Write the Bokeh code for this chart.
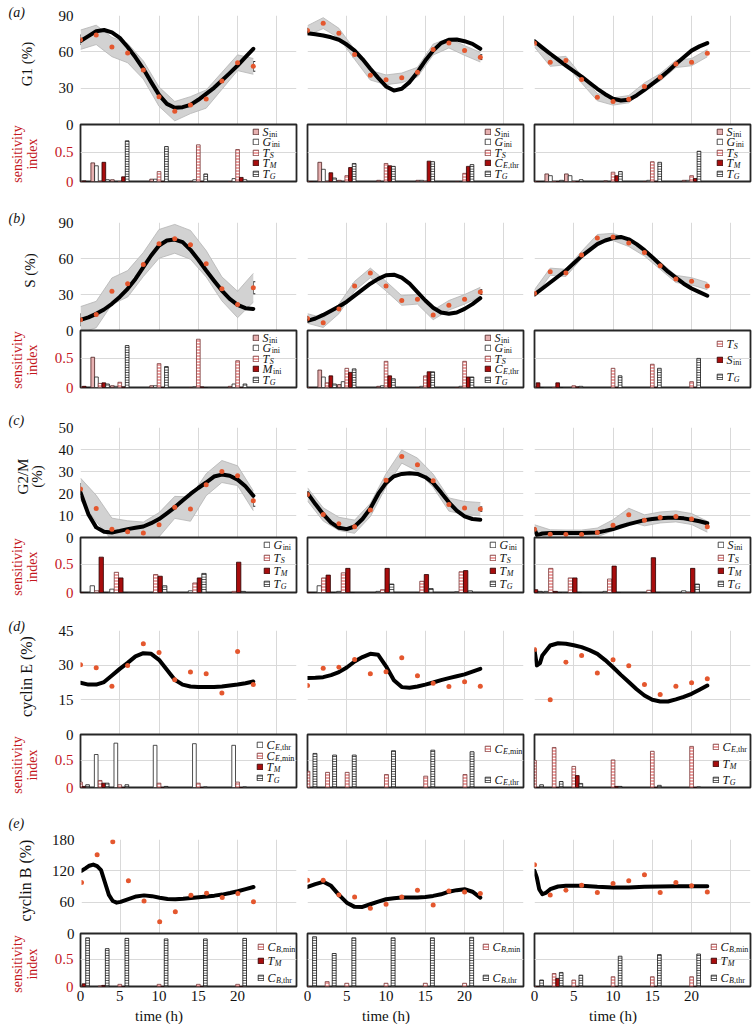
import math
from bokeh.plotting import figure
from bokeh.layouts import column, row
from bokeh.models import (ColumnDataSource, FixedTicker, LinearAxis, Range1d, Label,
                          Legend, LegendItem, Whisker, TeeHead, Grid, Plot)
from bokeh.core.properties import value
from bokeh.embed import file_html
from bokeh.resources import INLINE

# ------------------------------------------------------------------ data
obs_t = [0, 2, 4, 6, 8, 10, 12, 14, 16, 18, 20, 22]
hours = [0, 1, 2, 3, 4, 5, 6, 7, 8, 9, 10, 11, 12, 13, 14, 15, 16, 17, 18, 19, 20, 21, 22]
sens_t = [0, 2.5, 5, 10, 15, 20]

# (a) G1 (%)
g1_obs_1 = [70, 74, 64, 59, 45, 23, 11, 16, 21, 36, 51, 48]
g1_err_1 = [4, 4, 4, 3, 3, 4, 4, 3, 4, 3, 3, 4]
g1_band_1 = [8, 8, 8, 8, 7.5, 8, 8, 7, 7.5, 7, 6.5, 6.5]
g1_fit_1 = [69, 73, 77, 78, 76, 71.5, 64, 55.5, 46, 35, 24.5, 17, 13.8, 14.3, 16.2, 20.4,
            25.3, 30.3, 36.3, 42.4, 48.7, 55.6, 62.5]
g1_obs_2 = [77.6, 83.7, 75.4, 57.8, 40.7, 36.9, 38.5, 43.2, 61.9, 67.2, 61.1, 55.6]
g1_err_2 = [2, 2, 2, 2, 2, 2, 2, 2, 2, 2, 2, 2]
g1_band_2 = [4, 4.5, 4, 4, 4, 4, 4, 4, 4.5, 4, 4, 4]
g1_fit_2 = [75.4, 74.5, 73.5, 72, 70, 66, 61, 54, 46, 38.5, 31.4, 28, 29.5, 35, 43.2, 52.8,
            61, 67.2, 69.9, 70.2, 68.8, 66.6, 62.5]
g1_obs_3 = [67, 51.5, 52.8, 37.2, 22.6, 19, 20.9, 31.4, 39, 50, 51.5, 58.9]
g1_band_3 = [3, 3.5, 3.5, 3, 3, 3, 3, 3, 3, 3, 3, 3]
g1_fit_3 = [68.8, 63.5, 58.4, 53.5, 48.7, 44, 39.6, 34.5, 29.5, 25, 21.2, 19.8, 20.4, 24,
            28.6, 33.5, 38.5, 44, 50, 55.5, 61, 64.5, 67.2]

# (b) S (%)
s_obs_1 = [8.9, 13.3, 32.8, 38.9, 55, 72.2, 76.4, 71.4, 55.6, 34.7, 21.7, 35.6]
s_err_1 = [5, 5, 6, 5, 5, 5, 5, 5, 5, 5, 5, 5]
s_band_1 = [11, 11, 11, 11, 10, 12, 12, 12, 11, 10, 11, 12]
s_fit_1 = [8.9, 11, 13.9, 17.5, 22.2, 28, 34.7, 43, 52.8, 62.5, 70.8, 75, 75.8, 73.6, 67.2,
           59, 50, 41.5, 33.3, 26.4, 21.4, 18.6, 18]
s_obs_2 = [10, 6.5, 18, 37, 48, 37, 25, 26, 13, 21, 26, 32]
s_err_2 = [2, 2, 2, 2, 2, 2, 2, 2, 2, 2, 2, 2]
s_band_2 = [4, 4, 4, 4, 4, 4, 4, 4, 4, 4, 4, 4]
s_fit_2 = [8, 10, 13, 16.5, 20, 24, 29, 34, 39, 43, 46, 46.5, 44, 39, 32, 25, 19, 15, 14, 15,
           18, 22, 27]
s_obs_3 = [31, 49, 48, 63, 77, 78, 73, 65, 54, 43, 41, 37]
s_band_3 = [3, 3, 3, 3, 3, 3, 3, 3, 3, 3, 3, 3]
s_fit_3 = [30, 35, 40, 45, 50, 56, 62, 67, 72, 75, 77, 78, 76, 72, 67, 61, 55, 49, 44, 39, 35,
           32, 29]

# (c) G2/M (%)
g2_obs_1 = [22, 13.2, 3.8, 2.6, 2, 5.8, 13.7, 12.9, 24, 30, 28.1, 16.7]
g2_err_1 = [2.5, 2.5, 2.5, 2.5, 2.5, 2.5, 2.5, 2.5, 2.5, 2.5, 2.5, 2.5]
g2_band_1 = [5, 6, 5, 5, 5, 5.5, 5, 5.5, 5, 5, 4.5, 4.5]
g2_fit_1 = [20.5, 10.6, 4.6, 2.6, 2.3, 3, 3.8, 4.4, 5, 6.5, 8.4, 11, 13.7, 16.8, 19.8, 22.5,
            25, 27.7, 28.6, 28.1, 26.3, 23.3, 19]
g2_obs_2 = [19.6, 10.5, 6.2, 4.9, 12.5, 26, 36.8, 33.1, 25.8, 15, 13.4, 12.9]
g2_err_2 = [1, 1, 1, 1, 1, 1, 1, 1, 1, 1, 1, 1]
g2_band_2 = [3, 3, 3, 3, 3, 3, 3, 3, 3, 3, 3, 3]
g2_fit_2 = [20.2, 15.2, 10.6, 6.8, 4.4, 3.8, 5, 8.4, 13.2, 19.8, 24.8, 27.8, 28.9, 29.2, 28.9,
            27.4, 24.8, 20.5, 16, 12.2, 9.6, 8.4, 8.1]
g2_obs_3 = [3.8, 1.5, 1.4, 1.4, 2.3, 5.6, 10.3, 7.8, 9.1, 9.6, 8.4, 4.9]
g2_band_3 = [2, 2, 2, 2, 2, 2.5, 3, 2.5, 2.5, 2.5, 2.5, 2.5]
g2_fit_t_3 = [0, 0.3, 0.7, 1, 2, 3, 4, 5, 6, 7, 8, 9, 10, 11, 12, 13, 14, 15, 16, 17, 18, 19,
              20, 21, 22]
g2_fit_3 = [3.8, 1.2, 1.5, 1.8, 2, 2, 2.1, 2.1, 2.1, 2.2, 2.3, 3, 3.8, 5, 6.1, 7, 7.9, 8.4,
            8.8, 9, 9, 8.7, 8.1, 7.4, 6.5]

# (d) cyclin E (%)
ce_obs_1 = [30.2, 28.9, 20.9, 29.9, 39.3, 35.5, 23.7, 27, 26.3, 18, 35.9, 21.6]
ce_fit_1 = [22.4, 21.6, 21.6, 22.7, 25.5, 28.4, 31, 33.8, 35.2, 34.9, 32.3, 28, 23.7, 21.6,
            20.8, 20.6, 20.5, 20.6, 20.8, 21.2, 21.6, 22.2, 22.9]
ce_obs_2 = [21.2, 28.7, 29.1, 32.5, 26.3, 27.1, 33.2, 25.4, 22.2, 20.8, 22.8, 20.9]
ce_fit_2 = [24.5, 24.6, 24.8, 25.7, 27, 29, 31.6, 33.5, 34.9, 34.5, 29.5, 23.5, 20.5, 20.2,
            20.8, 21.6, 22.5, 23.5, 24.4, 25.2, 26, 27.2, 28.4]
ce_obs_3 = [36.8, 15, 31.3, 34.2, 26.6, 32.3, 29.7, 21.6, 17.3, 20.9, 22.4, 24.1]
ce_fit_t_3 = [0, 0.3, 0.7, 1, 2, 3, 4, 5, 6, 7, 8, 9, 10, 11, 12, 13, 14, 15, 16, 17, 18, 19,
              20, 21, 22]
ce_fit_3 = [36.4, 29.9, 30.9, 34.2, 38.5, 39.5, 39.3, 38.6, 37.8, 36.5, 34.9, 32.2, 29.1, 25.8,
            22.7, 19.6, 16.9, 15, 14.3, 14.3, 15.2, 16.3, 17.6, 19.4, 21.2]

# (e) cyclin B (%)
cb_obs_1 = [97.7, 151, 175.5, 100.9, 62.3, 22.5, 41.8, 73.3, 77.1, 68.8, 76.5, 61]
cb_fit_t_1 = [0, 0.5, 1, 1.5, 2, 2.5, 3, 3.5, 4, 4.5, 5, 6, 7, 8, 9, 10, 11, 12, 13, 14, 15,
              16, 17, 18, 19, 20, 21, 22]
cb_fit_1 = [120, 124.7, 129.8, 132, 129, 121.5, 97.7, 73.9, 62.3, 59.1, 60.5, 66, 71, 73,
            71.5, 68.5, 66, 65.6, 66.5, 68, 69.5, 71, 72.5, 74.5, 77.5, 81, 85, 89]
cb_obs_2 = [102, 102, 73.9, 70, 48.2, 55.9, 70, 82.9, 54.6, 81.6, 79.7, 76.5]
cb_fit_2 = [89.3, 94.5, 99, 91.3, 74, 59, 51, 50.8, 56, 61, 65.6, 67.5, 68.8, 68.8, 69, 70,
            72, 75, 80, 83, 84.8, 80, 68.8]
cb_obs_3 = [131.7, 73.9, 82.9, 92.5, 78.4, 95.8, 100.9, 112.5, 78.4, 97.7, 91.3, 79.7]
cb_fit_t_3 = [0, 0.3, 0.6, 1, 1.5, 2, 3, 4, 6, 8, 10, 12, 14, 16, 18, 20, 22]
cb_fit_3 = [120, 107, 84.8, 75.2, 78.4, 84.8, 90, 91.3, 91.3, 89.3, 88, 88, 89.3, 90, 90.6,
            90.6, 90.6]

# sensitivity indices at sens_t
sa1 = {"S_ini": [0, 0.32, 0.03, 0.04, 0, 0], "G_ini": [0, 0.27, 0, 0.04, 0.03, 0.05],
       "T_S": [0, 0, 0, 0.17, 0.63, 0.55], "T_M": [0.01, 0.33, 0.08, 0, 0, 0.07],
       "T_G": [0, 0.03, 0.70, 0.60, 0.13, 0.03]}
sa2 = {"S_ini": [0, 0.33, 0.02, 0.02, 0.02, 0], "G_ini": [0, 0.21, 0, 0, 0.02, 0],
       "T_S": [0, 0, 0.10, 0.31, 0, 0.14], "C_Ethr": [0, 0.15, 0.24, 0.27, 0.35, 0.26],
       "T_G": [0, 0.06, 0.31, 0.26, 0.34, 0.29]}
sa3 = {"S_ini": [0, 0.13, 0.13, 0.01, 0, 0.02], "G_ini": [0, 0.10, 0.10, 0, 0.02, 0.02],
       "T_S": [0, 0, 0, 0.16, 0.34, 0.10], "T_M": [0, 0, 0, 0.10, 0, 0.05],
       "T_G": [0, 0.02, 0.03, 0.17, 0.33, 0.52]}
sb1 = {"S_ini": [0, 0.52, 0.03, 0.03, 0, 0.02], "G_ini": [0, 0.18, 0.02, 0.03, 0.01, 0.06],
       "T_S": [0, 0.07, 0.09, 0.41, 0.83, 0.46], "M_ini": [0.02, 0.08, 0.01, 0, 0.01, 0],
       "T_G": [0, 0.06, 0.72, 0.36, 0, 0.06]}
sb2 = {"S_ini": [0, 0.30, 0.05, 0.02, 0, 0], "G_ini": [0, 0.18, 0.10, 0.03, 0.02, 0.02],
       "T_S": [0, 0.08, 0.33, 0.45, 0.20, 0.45], "C_Ethr": [0, 0.20, 0.26, 0.20, 0.27, 0.18],
       "T_G": [0, 0.06, 0.32, 0.15, 0.27, 0.18]}
sb3 = {"T_S": [0, 0, 0.03, 0.33, 0.40, 0.10], "S_ini": [0.08, 0.08, 0.01, 0, 0, 0],
       "T_G": [0, 0, 0.02, 0.20, 0.33, 0.50]}
sc1 = {"G_ini": [0, 0.12, 0.06, 0, 0.03, 0], "T_S": [0, 0.03, 0.36, 0.32, 0.17, 0.02],
       "T_M": [0, 0.63, 0.26, 0.29, 0.26, 0.54], "T_G": [0, 0, 0, 0.12, 0.34, 0.02]}
sc2 = {"G_ini": [0, 0.12, 0.02, 0.02, 0, 0.01], "T_S": [0, 0.26, 0.35, 0.05, 0.20, 0.37],
       "T_M": [0, 0.31, 0.43, 0.43, 0.32, 0.39], "T_G": [0, 0, 0, 0.15, 0.07, 0.03]}
sc3 = {"S_ini": [0, 0.02, 0, 0.02, 0, 0.03], "T_S": [0, 0.43, 0.26, 0.24, 0.04, 0],
       "T_M": [0.05, 0.02, 0.26, 0.47, 0.62, 0.43], "T_G": [0.02, 0, 0, 0, 0, 0.15]}
sd1 = {"C_Ethr": [0, 0.61, 0.82, 0.78, 0.81, 0.78], "C_Emin": [0.10, 0.13, 0.05, 0.08, 0.08, 0.10],
       "T_M": [0.02, 0.08, 0, 0, 0, 0], "T_G": [0.05, 0.08, 0.05, 0.02, 0.01, 0.01]}
sd2 = {"C_Emin": [0.30, 0.28, 0.28, 0.24, 0.21, 0.24], "C_Ethr": [0.63, 0.60, 0.60, 0.68, 0.69, 0.66]}
sd3 = {"C_Ethr": [0.50, 0.74, 0.39, 0.51, 0.67, 0.76], "T_M": [0, 0, 0.22, 0.02, 0, 0],
       "T_G": [0.05, 0.11, 0.075, 0.02, 0.04, 0.01]}
se1 = {"C_Bmin": [0, 0.01, 0.04, 0.04, 0.04, 0.04], "T_M": [0.05, 0.02, 0, 0, 0, 0],
       "C_Bthr": [0.90, 0.70, 0.89, 0.88, 0.88, 0.89]}
se2 = {"C_Bmin": [0, 0.09, 0.06, 0.06, 0.06, 0.06], "C_Bthr": [0.92, 0.61, 0.90, 0.90, 0.90, 0.91]}
se3 = {"C_Bmin": [0, 0.24, 0.12, 0.18, 0.18, 0.18], "T_M": [0, 0.15, 0, 0, 0, 0],
       "C_Bthr": [0.12, 0.26, 0.21, 0.56, 0.59, 0.60]}

# ------------------------------------------------------------------ styles / layout
SERIF = "Liberation Serif"
TXT = "#111111"
RED_TXT = "#c4161c"
DOT = "#e4572e"
GRID_C = "#d9d9d9"
BAND_FILL = "#d2d2d2"
BAND_EDGE = "#b4b4b4"
XMAX = 27.5
YB = 0.98
HAS_FRAME_ALIGN = "frame_align" in Plot.properties()

STRIP_W = 48
COL_W = [253, 227, 224]
BL = [32, 6, 6]
BR = [5, 5, 2]
OV = 10   # bottom border of the line plots (overlapped by the bar row)
BT = 2    # top border of the bar plots
# (top border, line-plot frame, bar frame, bottom border)
ROW_BOX = [(15, 109, 57, 10), (31, 108, 57, 10), (30, 110, 55, 10), (28, 104, 53, 10), (42, 94, 53, 22)]

STYLE = {
    "pink": dict(fill_color="#e7b1b1", line_color="#4a2020"),
    "white": dict(fill_color="#ffffff", line_color="#222222"),
    "pinkh": dict(fill_color="#f0a4a4", line_color="#7a3a3a", hatch_pattern="horizontal_line",
                  hatch_color="#ffffff", hatch_scale=3, hatch_weight=1),
    "red": dict(fill_color="#a80d0d", line_color="#2a0000"),
    "ladder": dict(fill_color="#ffffff", line_color="#111111", hatch_pattern="horizontal_line",
                   hatch_color="#333333", hatch_scale=2.5, hatch_weight=1),
}
SLOT5 = [-0.94, -0.47, 0, 0.47, 0.94]
SLOT_C = [-1.0, -0.43, 0.14, 0.72]
SLOT_D1 = [-0.5, 0, 0.45, 0.9]
SLOT_D2 = [0.05, 0.95]
SLOT_3 = [0, 0.45, 0.9]
SLOT_E2 = [0, 0.9]
LEG5 = [7, 17.5, 28, 38.5, 49]
LEG_C = [7.5, 20.5, 33, 46]

LEG_TEXT = {
    "S_ini": ("S", [("ini", "normal")]), "G_ini": ("G", [("ini", "normal")]),
    "M_ini": ("M", [("ini", "normal")]), "T_S": ("T", [("S", "italic")]),
    "T_M": ("T", [("M", "italic")]), "T_G": ("T", [("G", "italic")]),
    "C_Ethr": ("C", [("E", "italic"), (",thr", "normal")]),
    "C_Emin": ("C", [("E", "italic"), (",min", "normal")]),
    "C_Bthr": ("C", [("B", "italic"), (",thr", "normal")]),
    "C_Bmin": ("C", [("B", "italic"), (",min", "normal")]),
}
W_IT = {"S": .50, "G": .72, "T": .56, "C": .67, "M": .83, "E": .61, "B": .61}
W_RM = {"i": .278, "n": .5, "t": .278, "h": .5, "r": .333, "m": .778, ",": .25}

ROWS = [
    dict(ylabel="G1 (%)", lab_x=26.5, lab_size=15, lab_lh=1.0, ymax=90, yticks=[0, 30, 60, 90],
         tag="(a)", tag_dy=3, sens_dy=-1, panels=[
        dict(obs=g1_obs_1, err=g1_err_1, band=g1_band_1, fit_t=hours, fit=g1_fit_1, sens=sa1,
             sty=["pink", "white", "pinkh", "red", "ladder"], slots=SLOT5, bw=0.47, lx=172, ly=LEG5),
        dict(obs=g1_obs_2, err=g1_err_2, band=g1_band_2, fit_t=hours, fit=g1_fit_2, sens=sa2,
             sty=["pink", "white", "pinkh", "red", "ladder"], slots=SLOT5, bw=0.47, lx=177, ly=LEG5),
        dict(obs=g1_obs_3, err=None, band=g1_band_3, fit_t=hours, fit=g1_fit_3, sens=sa3,
             sty=["pink", "white", "pinkh", "red", "ladder"], slots=SLOT5, bw=0.47, lx=182, ly=LEG5)]),
    dict(ylabel="S (%)", lab_x=29, lab_size=15, lab_lh=1.0, ymax=90, yticks=[0, 30, 60, 90],
         tag="(b)", tag_dy=4.5, sens_dy=-1, panels=[
        dict(obs=s_obs_1, err=s_err_1, band=s_band_1, fit_t=hours, fit=s_fit_1, sens=sb1,
             sty=["pink", "white", "pinkh", "red", "ladder"], slots=SLOT5, bw=0.47, lx=172, ly=LEG5),
        dict(obs=s_obs_2, err=s_err_2, band=s_band_2, fit_t=hours, fit=s_fit_2, sens=sb2,
             sty=["pink", "white", "pinkh", "red", "ladder"], slots=SLOT5, bw=0.47, lx=177, ly=LEG5),
        dict(obs=s_obs_3, err=None, band=s_band_3, fit_t=hours, fit=s_fit_3, sens=sb3,
             sty=["pinkh", "red", "ladder"], slots=SLOT_3, bw=0.47, lx=182, ly=[13, 29, 46])]),
    dict(ylabel="G2/M\n(%)", lab_x=29.5, lab_size=15, lab_lh=0.89, ymax=50,
         yticks=[0, 10, 20, 30, 40, 50], tag="(c)", tag_dy=7, sens_dy=-2, panels=[
        dict(obs=g2_obs_1, err=g2_err_1, band=g2_band_1, fit_t=hours, fit=g2_fit_1, sens=sc1,
             sty=["white", "pinkh", "red", "ladder"], slots=SLOT_C, bw=0.55, lx=183, ly=LEG_C),
        dict(obs=g2_obs_2, err=g2_err_2, band=g2_band_2, fit_t=hours, fit=g2_fit_2, sens=sc2,
             sty=["white", "pinkh", "red", "ladder"], slots=SLOT_C, bw=0.55, lx=182, ly=LEG_C),
        dict(obs=g2_obs_3, err=None, band=g2_band_3, fit_t=g2_fit_t_3, fit=g2_fit_3, sens=sc3,
             sty=["white", "pinkh", "red", "ladder"], slots=SLOT_C, bw=0.55, lx=183, ly=LEG_C)]),
    dict(ylabel="cyclin E (%)", lab_x=26, lab_size=16, lab_lh=1.0, ymax=45, yticks=[0, 15, 30, 45],
         tag="(d)", tag_dy=4, sens_dy=-4, panels=[
        dict(obs=ce_obs_1, err=None, band=None, fit_t=hours, fit=ce_fit_1, sens=sd1,
             sty=["white", "pinkh", "red", "ladder"], slots=SLOT_D1, bw=0.47, lx=176, ly=[10, 21, 32, 43]),
        dict(obs=ce_obs_2, err=None, band=None, fit_t=hours, fit=ce_fit_2, sens=sd2,
             sty=["pinkh", "ladder"], slots=SLOT_D2, bw=0.5, lx=177, ly=[14, 45]),
        dict(obs=ce_obs_3, err=None, band=None, fit_t=ce_fit_t_3, fit=ce_fit_3, sens=sd3,
             sty=["pinkh", "red", "ladder"], slots=SLOT_3, bw=0.47, lx=178, ly=[12, 29, 45])]),
    dict(ylabel="cyclin B (%)", lab_x=25, lab_size=16, lab_lh=1.0, ymax=180, yticks=[0, 60, 120, 180],
         tag="(e)", tag_dy=16, sens_dy=-4, panels=[
        dict(obs=cb_obs_1, err=None, band=None, fit_t=cb_fit_t_1, fit=cb_fit_1, sens=se1,
             sty=["pinkh", "red", "ladder"], slots=SLOT_3, bw=0.47, lx=177, ly=[13, 27, 44]),
        dict(obs=cb_obs_2, err=None, band=None, fit_t=hours, fit=cb_fit_2, sens=se2,
             sty=["pinkh", "ladder"], slots=SLOT_E2, bw=0.5, lx=175, ly=[13, 44]),
        dict(obs=cb_obs_3, err=None, band=None, fit_t=cb_fit_t_3, fit=cb_fit_3, sens=se3,
             sty=["pinkh", "red", "ladder"], slots=SLOT_3, bw=0.47, lx=176, ly=[13, 27, 44])]),
]


def add_text(p, x, y, text, size, style="normal", color=TXT, align="left", units="screen",
             angle=0, lh=1.2):
    p.add_layout(Label(x=x, y=y, x_units=units, y_units=units, text=text, text_font=SERIF,
                       text_font_size=f"{size}px", text_font_style=style, text_color=color,
                       text_align=align, text_baseline="middle", angle=angle,
                       text_line_height=lh))


def style_axis(ax, color, size=15):
    ax.axis_line_color = None
    ax.major_tick_line_color = None
    ax.minor_tick_line_color = None
    ax.major_tick_out = 0
    ax.major_tick_in = 0
    ax.minor_tick_out = 0
    ax.major_label_text_font = SERIF
    ax.major_label_text_font_size = f"{size}px"
    ax.major_label_text_color = color
    ax.major_label_standoff = 7


def base_fig(w, h, xr, yr, bl, br, bt, bb, transparent=False):
    p = figure(width=w, height=h, x_range=xr, y_range=yr, output_backend="svg",
               toolbar_location=None, x_axis_location=None, y_axis_location=None,
               min_border_left=bl, min_border_right=br, min_border_top=bt, min_border_bottom=bb)
    p.grid.visible = False
    p.outline_line_color = None
    if transparent:
        p.background_fill_alpha = 0
        p.border_fill_alpha = 0
    else:
        p.background_fill_color = "white"
        p.border_fill_color = "white"
    return p


def make_top(ri, ci):
    R = ROWS[ri]
    P = R["panels"][ci]
    tb, th, bh, bb = ROW_BOX[ri]
    p = base_fig(COL_W[ci], tb + th + OV, Range1d(0, XMAX), Range1d(0, R["ymax"]),
                 BL[ci], BR[ci], tb, OV)
    p.add_layout(Grid(dimension=0, ticker=FixedTicker(ticks=[0, 5, 10, 15, 20, 25]),
                      grid_line_color=GRID_C), "center")
    p.add_layout(Grid(dimension=1, ticker=FixedTicker(ticks=R["yticks"]),
                      grid_line_color=GRID_C), "center")
    if P["band"] is not None:
        lo = [v - b for v, b in zip(P["obs"], P["band"])]
        hi = [v + b for v, b in zip(P["obs"], P["band"])]
        p.varea(x=obs_t, y1=lo, y2=hi, fill_color=BAND_FILL)
        p.line(obs_t, lo, line_color=BAND_EDGE, line_width=0.8)
        p.line(obs_t, hi, line_color=BAND_EDGE, line_width=0.8)
    p.line(P["fit_t"], P["fit"], line_color="black", line_width=4, line_join="round",
           line_cap="round")
    if P["err"] is not None:
        src = ColumnDataSource(dict(x=obs_t, lo=[v - e for v, e in zip(P["obs"], P["err"])],
                                    hi=[v + e for v, e in zip(P["obs"], P["err"])]))
        p.add_layout(Whisker(source=src, base="x", lower="lo", upper="hi", line_color="#222222",
                             line_width=1,
                             upper_head=TeeHead(size=4, line_color="#222222", line_width=1),
                             lower_head=TeeHead(size=4, line_color="#222222", line_width=1)))
    p.scatter(obs_t, P["obs"], size=5, fill_color=DOT, line_color=None)
    if ci == 0:
        ax = LinearAxis(ticker=FixedTicker(ticks=R["yticks"]))
        style_axis(ax, TXT)
        p.add_layout(ax, "left")
    return p


def add_legend(p, bh, lx, centers, entries):
    for cy, (name, r) in zip(centers, entries):
        yc = bh - cy
        p.add_layout(Legend(items=[LegendItem(label=value(" "), renderers=[r])],
                            location=(lx, yc - 3.5), glyph_width=7, glyph_height=7,
                            label_width=0, label_height=7, label_standoff=0, padding=0,
                            margin=0, spacing=0, border_line_color=None,
                            background_fill_alpha=0, label_text_font_size="1px"), "center")
        main, subs = LEG_TEXT[name]
        x = lx + 10
        add_text(p, x, yc, main, 12, "italic")
        x += W_IT[main] * 12 + 0.5
        for s, st in subs:
            add_text(p, x, yc - 2.5, s, 8, st)
            table = W_IT if st == "italic" else W_RM
            x += sum(table[ch] for ch in s) * 8


def make_bar(ri, ci):
    R = ROWS[ri]
    P = R["panels"][ci]
    tb, th, bh, bb = ROW_BOX[ri]
    p = base_fig(COL_W[ci], BT + bh + bb, Range1d(0, XMAX), Range1d(0, YB),
                 BL[ci], BR[ci], BT, bb, transparent=True)
    p.background_fill_alpha = 1
    p.background_fill_color = "white"
    p.outline_line_color = "#262626"
    p.outline_line_width = 1.8
    p.add_layout(Grid(dimension=1, ticker=FixedTicker(ticks=[0.5]), grid_line_color=GRID_C),
                 "center")
    entries = []
    for (name, vals), sty, off in zip(P["sens"].items(), P["sty"], P["slots"]):
        xs = [t + off for t in sens_t]
        r = p.vbar(x=xs, top=vals, bottom=0, width=P["bw"], line_width=0.8, **STYLE[sty])
        entries.append((name, r))
    add_legend(p, bh, P["lx"], P["ly"], entries)
    if ci == 0:
        ax = LinearAxis(ticker=FixedTicker(ticks=[0, 0.5]))
        style_axis(ax, RED_TXT)
        p.add_layout(ax, "left")
    if ri == 4:
        xa = LinearAxis(ticker=FixedTicker(ticks=[0, 5, 10, 15, 20]))
        style_axis(xa, TXT)
        xa.major_label_standoff = 4
        p.add_layout(xa, "below")
    return p


def strip(h):
    p = base_fig(STRIP_W, h, Range1d(0, STRIP_W), Range1d(0, h), 0, 0, 0, 0, transparent=True)
    if HAS_FRAME_ALIGN:
        p.frame_align = False
    return p


def wrap(p):
    return p if HAS_FRAME_ALIGN else column(p)


def strip_top(ri):
    R = ROWS[ri]
    tb, th, bh, bb = ROW_BOX[ri]
    p = strip(tb + th + OV)
    add_text(p, 8, OV + th + R["tag_dy"], R["tag"], 14, "italic", units="data")
    add_text(p, R["lab_x"], OV + th / 2 + 6, R["ylabel"], R["lab_size"], align="center",
             units="data", angle=math.pi / 2, lh=R["lab_lh"])
    return wrap(p)


def strip_bar(ri):
    R = ROWS[ri]
    tb, th, bh, bb = ROW_BOX[ri]
    p = strip(BT + bh + bb)
    add_text(p, 24, bb + bh / 2 + R["sens_dy"], "sensitivity\nindex", 14, color=RED_TXT,
             align="center", units="data", angle=math.pi / 2, lh=1.0)
    return wrap(p)


def label_fig(ci):
    p = base_fig(COL_W[ci], 20, Range1d(0, XMAX), Range1d(0, 20), BL[ci], BR[ci], 0, 0,
                 transparent=True)
    add_text(p, 10, 9, "time (h)", 15, align="center", units="data")
    return p


rows_ = []
for ri in range(5):
    rows_.append(row(strip_top(ri), *[make_top(ri, ci) for ci in range(3)], spacing=0))
    rows_.append(row(strip_bar(ri), *[make_bar(ri, ci) for ci in range(3)], spacing=0,
                     margin=(-(OV + BT), 0, 0, 0)))
rows_.append(row(strip(20), *[label_fig(ci) for ci in range(3)], spacing=0,
                 margin=(-4, 0, 0, 0)))
lay = column(*rows_, spacing=0)

open("out.html", "w").write(file_html(lay, INLINE, title="cell cycle sensitivity"))
